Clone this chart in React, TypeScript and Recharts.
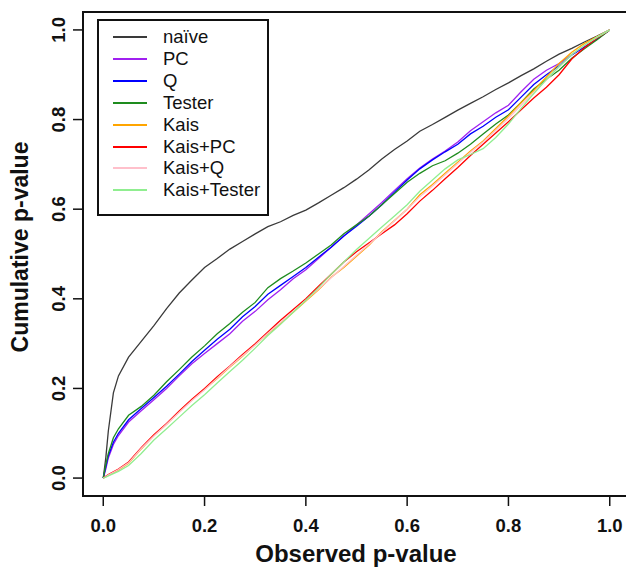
import React from 'react';
import { LineChart, Line, XAxis, YAxis, ReferenceArea, Label } from 'recharts';

// observed p-value grid shared by all curves
const pGrid = [
  0, 0.005, 0.01, 0.02, 0.03, 0.05, 0.075, 0.1, 0.125, 0.15, 0.175, 0.2, 0.225, 0.25, 0.275, 0.3,
  0.325, 0.35, 0.375, 0.4, 0.425, 0.45, 0.475, 0.5, 0.525, 0.55, 0.575, 0.6, 0.625, 0.65, 0.675,
  0.7, 0.725, 0.75, 0.775, 0.8, 0.825, 0.85, 0.875, 0.9, 0.925, 0.95, 0.975, 1,
];

const naive = [
  0, 0.045, 0.105, 0.19, 0.228, 0.27, 0.305, 0.34, 0.378, 0.413, 0.442, 0.47, 0.49, 0.511, 0.528, 0.545,
  0.561, 0.572, 0.586, 0.598, 0.614, 0.631, 0.648, 0.667, 0.688, 0.712, 0.733, 0.752, 0.774, 0.789, 0.805,
  0.821, 0.836, 0.851, 0.867, 0.882, 0.898, 0.913, 0.93, 0.946, 0.959, 0.973, 0.986, 1,
];
const pc = [
  0, 0.02, 0.045, 0.075, 0.095, 0.125, 0.15, 0.175, 0.2, 0.228, 0.255, 0.278, 0.3, 0.322, 0.35, 0.372,
  0.398, 0.42, 0.445, 0.465, 0.49, 0.515, 0.54, 0.565, 0.59, 0.615, 0.642, 0.668, 0.692, 0.712, 0.73,
  0.75, 0.775, 0.795, 0.815, 0.832, 0.862, 0.89, 0.91, 0.925, 0.945, 0.962, 0.98, 1,
];
const q = [
  0, 0.025, 0.05, 0.08, 0.1, 0.13, 0.155, 0.18, 0.205, 0.232, 0.26, 0.285, 0.31, 0.332, 0.36, 0.383,
  0.41, 0.43, 0.45, 0.47, 0.493, 0.515, 0.54, 0.562, 0.585, 0.61, 0.638, 0.665, 0.69, 0.71, 0.728,
  0.745, 0.768, 0.785, 0.805, 0.822, 0.85, 0.878, 0.9, 0.92, 0.944, 0.962, 0.98, 1,
];
const tester = [
  0, 0.03, 0.055, 0.09, 0.11, 0.14, 0.16, 0.185, 0.215, 0.242, 0.27, 0.295, 0.322, 0.345, 0.37, 0.392,
  0.425, 0.445, 0.462, 0.48, 0.5, 0.52, 0.545, 0.565, 0.585, 0.61, 0.635, 0.66, 0.68, 0.697, 0.708,
  0.725, 0.745, 0.768, 0.79, 0.81, 0.838, 0.868, 0.89, 0.91, 0.937, 0.958, 0.978, 1,
];
const kais = [
  0, 0.003, 0.006, 0.012, 0.018, 0.033, 0.065, 0.095, 0.12, 0.148, 0.174, 0.198, 0.222, 0.248, 0.272, 0.298,
  0.322, 0.345, 0.37, 0.395, 0.42, 0.448, 0.47, 0.495, 0.52, 0.55, 0.575, 0.6, 0.632, 0.655, 0.68,
  0.705, 0.73, 0.752, 0.78, 0.808, 0.838, 0.865, 0.895, 0.925, 0.95, 0.97, 0.985, 1,
];
const kaisPc = [
  0, 0.004, 0.008, 0.014, 0.02, 0.036, 0.068, 0.097, 0.122, 0.15, 0.176, 0.2, 0.226, 0.25, 0.276, 0.3,
  0.326, 0.352, 0.376, 0.4, 0.428, 0.455, 0.482, 0.505, 0.525, 0.545, 0.565, 0.59, 0.618, 0.642, 0.668,
  0.693, 0.72, 0.745, 0.77, 0.795, 0.822, 0.848, 0.872, 0.9, 0.935, 0.96, 0.982, 1,
];
const kaisQ = [
  0, 0.003, 0.007, 0.013, 0.019, 0.034, 0.066, 0.094, 0.12, 0.147, 0.173, 0.197, 0.223, 0.249, 0.273, 0.297,
  0.323, 0.347, 0.372, 0.397, 0.422, 0.447, 0.472, 0.497, 0.522, 0.548, 0.574, 0.6, 0.628, 0.652, 0.677,
  0.702, 0.727, 0.75, 0.776, 0.803, 0.832, 0.86, 0.888, 0.918, 0.945, 0.966, 0.984, 1,
];
const kaisTester = [
  0, 0.002, 0.005, 0.01, 0.015, 0.028, 0.055, 0.085, 0.11, 0.136, 0.162, 0.186, 0.212, 0.238, 0.263, 0.29,
  0.318, 0.343, 0.37, 0.397, 0.425, 0.455, 0.482, 0.51, 0.535, 0.56, 0.585, 0.61, 0.64, 0.665, 0.69,
  0.71, 0.722, 0.735, 0.76, 0.79, 0.825, 0.858, 0.89, 0.918, 0.945, 0.966, 0.984, 1,
];

const seriesNames = ['naïve', 'PC', 'Q', 'Tester', 'Kais', 'Kais+PC', 'Kais+Q', 'Kais+Tester'];
const seriesColors = ['#3a3a3a', '#a020f0', '#0000ff', '#1e8c1e', '#ffa500', '#ff0000', '#ffc0cb', '#90ee90'];
const seriesValues = [naive, pc, q, tester, kais, kaisPc, kaisQ, kaisTester];

const axisTicks = [0, 0.2, 0.4, 0.6, 0.8, 1];

const FONT = '"Liberation Sans", Arial, Helvetica, sans-serif';

const YTick = (props: any) => {
  const { x, y, payload } = props;
  return (
    <text
      x={x - 6}
      y={y}
      transform={`rotate(-90, ${x - 6}, ${y})`}
      textAnchor="middle"
      fontFamily={FONT}
      fontWeight="bold"
      fontSize={18.5}
      fill="#111"
    >
      {payload.value.toFixed(1)}
    </text>
  );
};

const XTick = (props: any) => {
  const { x, y, payload } = props;
  return (
    <text x={x} y={y + 24} textAnchor="middle" fontFamily={FONT} fontWeight="bold" fontSize={18.5} fill="#111">
      {payload.value.toFixed(1)}
    </text>
  );
};

const XTitle = () => (
  <text x={356} y={562} textAnchor="middle" fontFamily={FONT} fontWeight="bold" fontSize={24} fill="#111">
    Observed p-value
  </text>
);

const YTitle = () => (
  <text
    transform="translate(28, 247) rotate(-90)"
    textAnchor="middle"
    fontFamily={FONT}
    fontWeight="bold"
    fontSize={23}
    fill="#111"
  >
    Cumulative p-value
  </text>
);

const PlotLegend = () => (
  <div
    style={{
      position: 'absolute',
      left: 97,
      top: 19,
      width: 168,
      height: 193,
      border: '2px solid #111',
      background: '#fff',
      fontFamily: FONT,
      fontSize: 18.5,
      color: '#111',
    }}
  >
    {seriesNames.map((name, i) => (
      <div key={name} style={{ position: 'absolute', top: 6 + i * 21.9, left: 0, height: 20, display: 'flex', alignItems: 'center' }}>
        <div style={{ marginLeft: 14, width: 34, height: 0, borderTop: `2px solid ${seriesColors[i]}` }} />
        <span style={{ marginLeft: 16, whiteSpace: 'nowrap' }}>{name}</span>
      </div>
    ))}
  </div>
);

export default function App() {
  return (
    <div style={{ position: 'absolute', left: 0, top: 0, width: 626, height: 568, overflow: 'hidden', background: '#fff' }}>
      <LineChart width={640} height={568} margin={{ top: 12, right: 10, bottom: 0, left: 0 }}>
        <XAxis
          type="number"
          dataKey="x"
          domain={[-0.04, 1.04]}
          ticks={axisTicks}
          allowDataOverflow
          height={72}
          axisLine={false}
          tickLine={{ stroke: '#111', strokeWidth: 1.5 }}
          tickSize={10}
          tick={<XTick />}
        >
          <Label content={<XTitle />} />
        </XAxis>
        <YAxis
          type="number"
          dataKey="y"
          domain={[-0.04, 1.04]}
          ticks={axisTicks}
          allowDataOverflow
          width={83}
          axisLine={false}
          tickLine={{ stroke: '#111', strokeWidth: 1.5 }}
          tickSize={10}
          tick={<YTick />}
        >
          <Label content={<YTitle />} />
        </YAxis>
        <ReferenceArea
          x1={-0.04}
          x2={1.04}
          y1={-0.04}
          y2={1.04}
          fill="none"
          stroke="#111"
          strokeWidth={2}
          ifOverflow="visible"
        />
        {seriesValues.map((vals, i) => (
          <Line
            key={seriesNames[i]}
            data={pGrid.map((p, j) => ({ x: p, y: vals[j] }))}
            dataKey="y"
            type="linear"
            stroke={seriesColors[i]}
            strokeWidth={1.3}
            dot={false}
            isAnimationActive={false}
          />
        ))}
      </LineChart>
      <PlotLegend />
    </div>
  );
}
